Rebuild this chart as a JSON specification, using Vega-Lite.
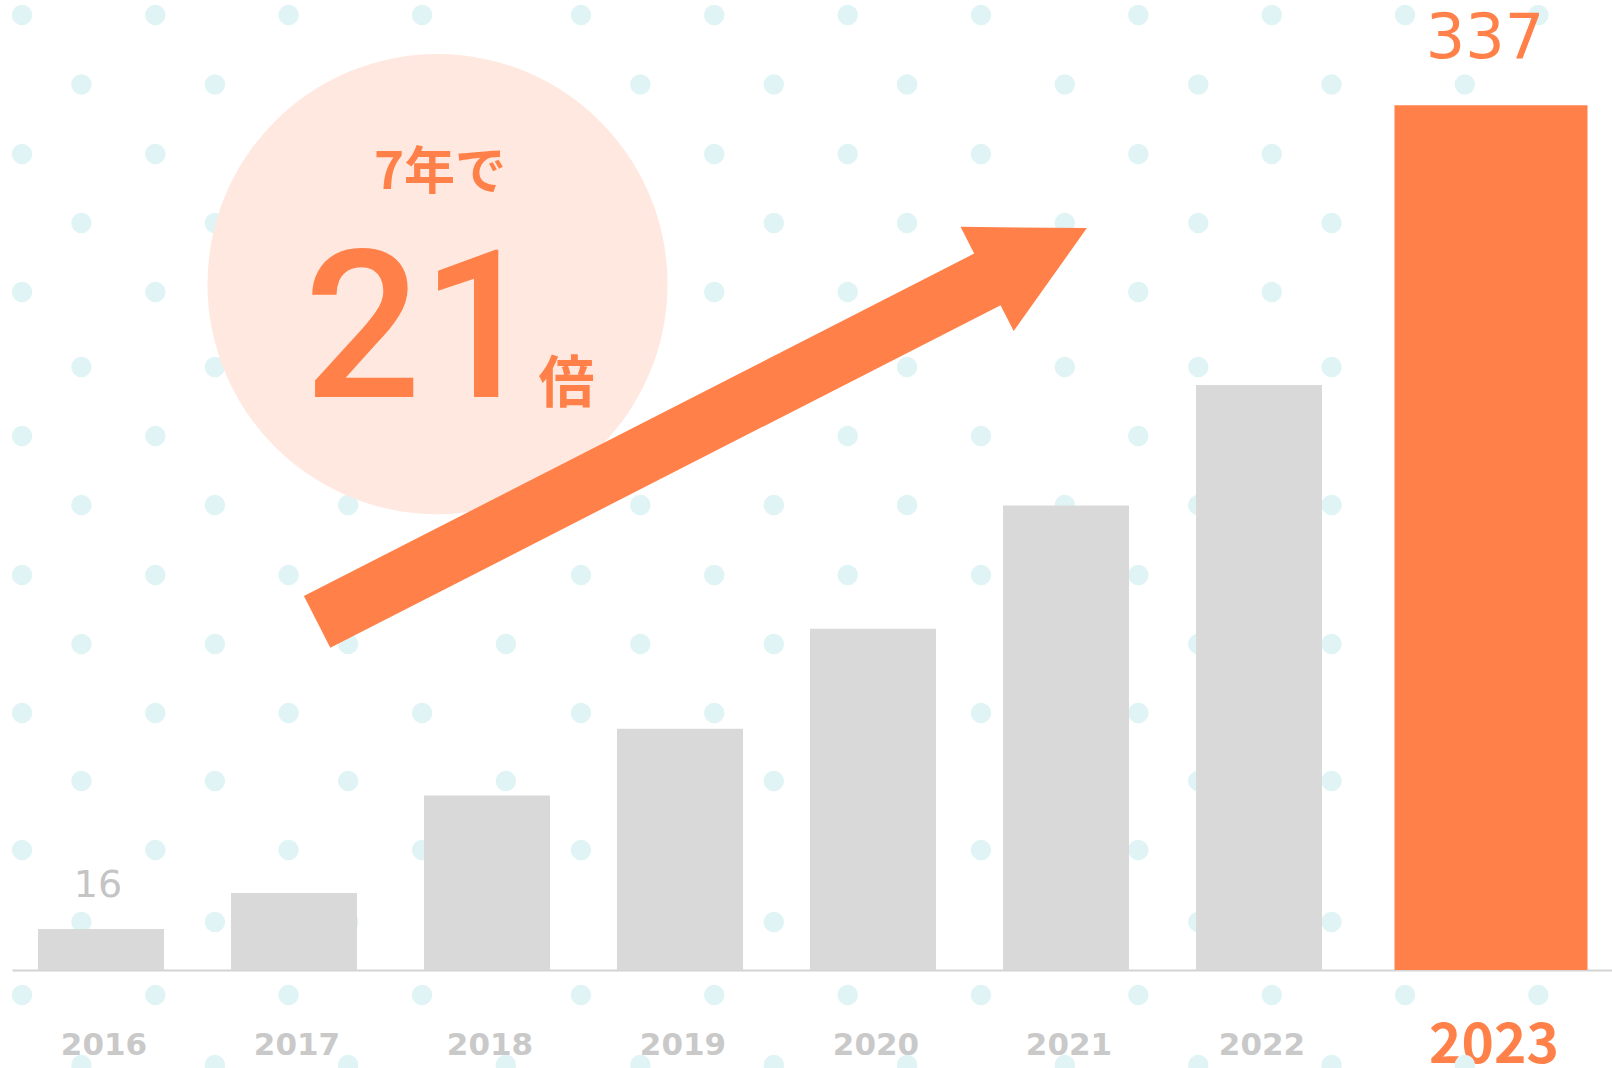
{
  "$schema": "https://vega.github.io/schema/vega-lite/v6.json",
  "width": 1600,
  "height": 970,
  "autosize": "none",
  "padding": {"left": 12, "top": 0, "right": 0, "bottom": 98},
  "background": "white",
  "config": {"view": {"stroke": null}},
  "datasets": {
    "bars": [
      {"year": "2016", "count": 16},
      {"year": "2017", "count": 30},
      {"year": "2018", "count": 68},
      {"year": "2019", "count": 94},
      {"year": "2020", "count": 133},
      {"year": "2021", "count": 181},
      {"year": "2022", "count": 228},
      {"year": "2023", "count": 337}
    ],
    "notes": [
      {"item": "circle", "pos": 2017.7345, "v": 267.3, "label": ""},
      {"item": "headline", "pos": 2017.7474, "v": 310.2, "label": "7年で"},
      {"item": "ratio", "pos": 2017.650, "v": 223.3, "label": "21"},
      {"item": "unit", "pos": 2018.400, "v": 228.0, "label": "倍"},
      {"item": "shaft", "pos": 2017.1139, "v": 135.65, "label": ""},
      {"item": "shaft", "pos": 2020.6072, "v": 270.6, "label": ""},
      {"item": "head", "pos": 2020.8247, "v": 279.2, "label": ""}
    ],
    "dots": [
      {"v": 372.15, "pos": [2015.593, 2016.280, 2016.967, 2017.655, 2018.474, 2019.161, 2019.849, 2020.536, 2021.347, 2022.035, 2022.722, 2023.409]},
      {"v": 345.07, "pos": [2015.899, 2016.587, 2017.274, 2018.087, 2018.780, 2019.468, 2020.155, 2020.968, 2021.656, 2022.343, 2023.030]},
      {"v": 317.99, "pos": [2015.593, 2016.280, 2016.967, 2017.655, 2018.474, 2019.161, 2019.849, 2020.536, 2021.347, 2022.035, 2022.722, 2023.409]},
      {"v": 291.10, "pos": [2015.899, 2016.587, 2017.274, 2018.087, 2018.780, 2019.468, 2020.155, 2020.968, 2021.656, 2022.343, 2023.030]},
      {"v": 264.21, "pos": [2015.593, 2016.280, 2016.967, 2017.655, 2018.474, 2019.161, 2019.849, 2020.536, 2021.347, 2022.035, 2022.722, 2023.409]},
      {"v": 234.98, "pos": [2015.899, 2016.587, 2017.274, 2018.087, 2018.780, 2019.468, 2020.155, 2020.968, 2021.656, 2022.343, 2023.030]},
      {"v": 208.09, "pos": [2015.593, 2016.280, 2016.967, 2017.655, 2018.474, 2019.161, 2019.849, 2020.536, 2021.347, 2022.035, 2022.722, 2023.409]},
      {"v": 181.21, "pos": [2015.899, 2016.587, 2017.274, 2018.087, 2018.780, 2019.468, 2020.155, 2020.968, 2021.656, 2022.343, 2023.030]},
      {"v": 153.93, "pos": [2015.593, 2016.280, 2016.967, 2017.655, 2018.474, 2019.161, 2019.849, 2020.536, 2021.347, 2022.035, 2022.722, 2023.409]},
      {"v": 127.04, "pos": [2015.899, 2016.587, 2017.274, 2018.087, 2018.780, 2019.468, 2020.155, 2020.968, 2021.656, 2022.343, 2023.030]},
      {"v": 100.15, "pos": [2015.593, 2016.280, 2016.967, 2017.655, 2018.474, 2019.161, 2019.849, 2020.536, 2021.347, 2022.035, 2022.722, 2023.409]},
      {"v": 73.65, "pos": [2015.899, 2016.587, 2017.274, 2018.087, 2018.780, 2019.468, 2020.155, 2020.968, 2021.656, 2022.343, 2023.030]},
      {"v": 46.76, "pos": [2015.593, 2016.280, 2016.967, 2017.655, 2018.474, 2019.161, 2019.849, 2020.536, 2021.347, 2022.035, 2022.722, 2023.409]},
      {"v": 18.71, "pos": [2015.899, 2016.587, 2017.274, 2018.087, 2018.780, 2019.468, 2020.155, 2020.968, 2021.656, 2022.343, 2023.030]},
      {"v": -9.74, "pos": [2015.593, 2016.280, 2016.967, 2017.655, 2018.474, 2019.161, 2019.849, 2020.536, 2021.347, 2022.035, 2022.722, 2023.409]},
      {"v": -37.02, "pos": [2015.899, 2016.587, 2017.274, 2018.087, 2018.780, 2019.468, 2020.155, 2020.968, 2021.656, 2022.343, 2023.030]}
    ]
  },
  "layer": [
    {
      "data": {"name": "notes"},
      "encoding": {
        "x": {"field": "pos", "type": "quantitative", "scale": {"domain": [2015.5412, 2023.7887], "nice": false, "zero": false}, "axis": null},
        "y": {"field": "v", "type": "quantitative", "scale": {"domain": [0, 378], "nice": false, "zero": true}, "axis": null}
      },
      "layer": [
        {
          "data": {"name": "dots"},
          "transform": [{"flatten": ["pos"]}],
          "mark": {"type": "point", "shape": "circle", "filled": true, "size": 420, "color": "#E0F4F6", "opacity": 1, "strokeWidth": 0}
        },
        {
          "transform": [{"filter": "datum.item == 'circle'"}],
          "mark": {"type": "point", "shape": "circle", "filled": true, "size": 211600, "color": "#FFE8DF", "opacity": 1, "strokeWidth": 0}
        },
        {
          "transform": [{"filter": "datum.item == 'headline'"}],
          "mark": {"type": "text", "font": "Noto Sans CJK JP", "fontSize": 51, "fontWeight": "bold", "color": "#FF8048", "align": "center", "baseline": "middle"},
          "encoding": {"text": {"field": "label"}}
        },
        {
          "transform": [{"filter": "datum.item == 'ratio'"}],
          "mark": {"type": "text", "font": "Roboto", "fontSize": 206, "fontWeight": 500, "color": "#FF8048", "align": "center", "baseline": "alphabetic"},
          "encoding": {"text": {"field": "label"}}
        },
        {
          "transform": [{"filter": "datum.item == 'unit'"}],
          "mark": {"type": "text", "font": "Noto Sans CJK JP", "fontSize": 56, "fontWeight": "bold", "color": "#FF8048", "align": "center", "baseline": "middle"},
          "encoding": {"text": {"field": "label"}}
        },
        {
          "transform": [{"filter": "datum.item == 'shaft'"}],
          "mark": {"type": "line", "color": "#FF8048", "strokeWidth": 58, "strokeCap": "butt"}
        },
        {
          "transform": [{"filter": "datum.item == 'head'"}],
          "mark": {"type": "point", "shape": "M0.957,0L-0.957,-1L-0.957,1Z", "filled": true, "size": 13689, "angle": 333, "color": "#FF8048", "opacity": 1, "strokeWidth": 0}
        }
      ]
    },
    {
      "data": {"name": "bars"},
      "encoding": {
        "x": {
          "field": "year",
          "type": "ordinal",
          "scale": {"domain": ["2016", "2017", "2018", "2019", "2020", "2021", "2022", "2023"], "paddingInner": 0.3472, "paddingOuter": 0.3187, "align": 0.2114, "round": false},
          "axis": {
            "title": null,
            "ticks": false,
            "tickSize": 0,
            "grid": false,
            "domainColor": "#D4D4D4",
            "domainWidth": 2,
            "labelAngle": 0,
            "labelAlign": "center",
            "labelBaseline": "middle",
            "labelPadding": 75,
            "labelFont": {"condition": {"test": "datum.value == '2023'", "value": "Noto Sans CJK JP"}, "value": "DejaVu Sans"},
            "labelFontSize": {"condition": {"test": "datum.value == '2023'", "value": 55}, "value": 31},
            "labelFontWeight": "bold",
            "labelColor": {"condition": {"test": "datum.value == '2023'", "value": "#FF8048"}, "value": "#C9C9C9"},
            "labelOffset": {"condition": {"test": "datum.value == '2023'", "value": 42}, "value": 3}
          }
        },
        "y": {"field": "count", "type": "quantitative", "scale": {"domain": [0, 378], "nice": false, "zero": true}, "axis": null}
      },
      "layer": [
        {
          "transform": [{"filter": "datum.year != '2023'"}],
          "mark": {"type": "bar", "color": "#D9D9D9"}
        },
        {
          "transform": [{"filter": "datum.year == '2023'"}],
          "mark": {"type": "bar", "color": "#FF8048", "width": 193, "xOffset": 39}
        },
        {
          "transform": [{"filter": "datum.year == '2016'"}],
          "mark": {"type": "text", "font": "DejaVu Sans", "fontSize": 38, "color": "#C4C4C4", "align": "center", "baseline": "alphabetic", "dy": -32, "dx": -3},
          "encoding": {"text": {"field": "count", "type": "quantitative"}}
        },
        {
          "transform": [{"filter": "datum.year == '2023'"}],
          "mark": {"type": "text", "font": "DejaVu Sans", "fontSize": 62, "color": "#FF8048", "align": "center", "baseline": "alphabetic", "dy": -47, "dx": 33},
          "encoding": {"text": {"field": "count", "type": "quantitative"}}
        }
      ]
    }
  ],
  "resolve": {"scale": {"x": "independent"}, "axis": {"x": "independent"}}
}
